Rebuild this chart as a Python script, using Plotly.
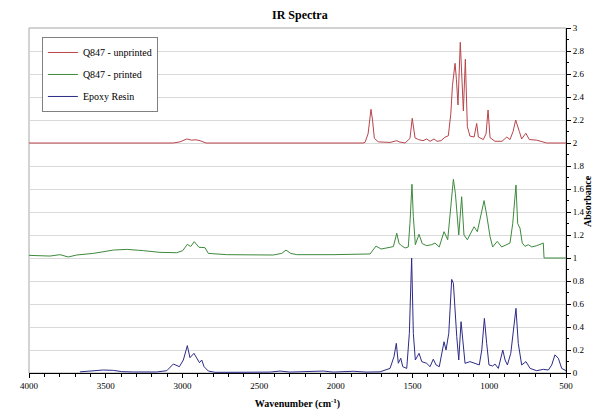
import plotly.graph_objects as go

# ---- data (wavenumber cm-1, absorbance with offsets as plotted) ----
unprinted_wn = [4000, 3060, 3016, 2972, 2940, 2912, 2885, 2864, 2846, 1823, 1810, 1790, 1771, 1761,
                1749, 1723, 1647, 1603, 1588, 1549, 1517, 1502, 1484, 1462, 1432, 1408, 1386, 1360,
                1341, 1315, 1289, 1267, 1251, 1240, 1223, 1214, 1204, 1189, 1181, 1169, 1156, 1143,
                1126, 1099, 1082, 1071, 1039, 1021, 1008, 995, 963, 917, 886, 865, 845, 828, 804,
                789, 762, 739, 691, 648, 626, 500]
unprinted_abs = [2.0, 2.0, 2.01, 2.035, 2.025, 2.028, 2.02, 2.008, 2.0, 2.0, 2.005, 2.08, 2.293, 2.2,
                 2.04, 2.01, 2.005, 2.02, 2.01, 2.0, 2.04, 2.215, 2.045, 2.03, 2.02, 2.035, 2.015, 2.035,
                 2.015, 2.02, 2.05, 2.063, 2.25, 2.5, 2.693, 2.55, 2.33, 2.876, 2.6, 2.278, 2.728, 2.142,
                 2.06, 2.052, 2.17, 2.052, 2.03, 2.08, 2.287, 2.046, 2.015, 2.015, 2.052, 2.03, 2.1, 2.2, 2.1,
                 2.035, 2.085, 2.03, 2.025, 2.012, 2.0, 2.0]

printed_wn = [4000, 3863, 3798, 3744, 3689, 3581, 3450, 3363, 3255, 3146, 3037, 2998, 2968, 2946,
              2923, 2892, 2853, 2831, 2711, 2408, 2353, 2325, 2294, 2255, 2018, 1777, 1738, 1706,
              1647, 1625, 1603, 1588, 1571, 1549, 1528, 1517, 1504, 1495, 1482, 1458, 1437, 1408,
              1375, 1354, 1326, 1295, 1271, 1251, 1234, 1221, 1199, 1180, 1165, 1143, 1099, 1078,
              1054, 1034, 1017, 995, 978, 948, 919, 891, 865, 847, 826, 815, 800, 785, 767, 746,
              723, 691, 648, 643, 500]
printed_abs = [1.023, 1.017, 1.029, 1.009, 1.026, 1.04, 1.069, 1.075, 1.064, 1.049, 1.046, 1.064, 1.119, 1.1,
               1.142, 1.093, 1.09, 1.04, 1.029, 1.026, 1.04, 1.069, 1.04, 1.029, 1.029, 1.035, 1.104, 1.078,
               1.093, 1.1, 1.215, 1.125, 1.107, 1.087, 1.096, 1.302, 1.641, 1.36, 1.116, 1.206, 1.125, 1.107,
               1.116, 1.13, 1.096, 1.229, 1.159, 1.475, 1.684, 1.562, 1.2, 1.533, 1.2, 1.159, 1.272, 1.229,
               1.388, 1.499, 1.374, 1.186, 1.096, 1.145, 1.096, 1.116, 1.13, 1.302, 1.635, 1.3, 1.26, 1.13,
               1.101, 1.116, 1.096, 1.107, 1.13, 1.0, 1.0]

epoxy_wn = [3668, 3581, 3516, 3450, 3396, 3320, 3168, 3102, 3059, 3020, 2994, 2968, 2951, 2925,
            2903, 2889, 2874, 2859, 2831, 2788, 2670, 2429, 2364, 2299, 2082, 2018, 1886, 1803, 1712,
            1647, 1621, 1606, 1593, 1577, 1564, 1538, 1521, 1506, 1495, 1482, 1458, 1440, 1408, 1386,
            1365, 1347, 1326, 1295, 1282, 1264, 1245, 1234, 1212, 1199, 1184, 1169, 1158, 1126, 1093,
            1065, 1049, 1032, 1017, 1002, 978, 963, 941, 912, 897, 882, 860, 843, 826, 811, 789, 761,
            734, 691, 648, 615, 593, 572, 550, 528, 500]
epoxy_abs = [0.01, 0.02, 0.026, 0.023, 0.012, 0.009, 0.009, 0.02, 0.078, 0.055, 0.113, 0.238, 0.133, 0.171,
             0.113, 0.09, 0.113, 0.055, 0.017, 0.006, 0.006, 0.008, 0.017, 0.008, 0.017, 0.008, 0.015, 0.008, 0.01,
             0.04, 0.142, 0.258, 0.085, 0.128, 0.055, 0.04, 0.345, 1.0, 0.345, 0.113, 0.171, 0.099, 0.084, 0.055,
             0.12, 0.07, 0.055, 0.272, 0.2, 0.345, 0.814, 0.78, 0.316, 0.113, 0.446, 0.2, 0.084, 0.099, 0.084,
             0.07, 0.2, 0.475, 0.258, 0.07, 0.061, 0.078, 0.04, 0.2, 0.113, 0.07, 0.171, 0.345, 0.562, 0.258, 0.07, 0.099,
             0.04, 0.02, 0.032, 0.026, 0.07, 0.158, 0.128, 0.04, 0.02]

series_names = ["Q847 - unprinted", "Q847 - printed", "Epoxy Resin"]
series_colors = ["#b8444a", "#3d8a3d", "#2b2b88"]

x_ticks = [4000, 3500, 3000, 2500, 2000, 1500, 1000, 500]
y_ticks = [0, 0.2, 0.4, 0.6, 0.8, 1, 1.2, 1.4, 1.6, 1.8, 2, 2.2, 2.4, 2.6, 2.8, 3]
y_labels = ["0", "0.2", "0.4", "0.6", "0.8", "1", "1.2", "1.4", "1.6", "1.8",
            "2", "2.2", "2.4", "2.6", "2.8", "3"]

FONT = "Liberation Serif"

fig = go.Figure()
for i, (xs, ys) in enumerate([(unprinted_wn, unprinted_abs),
                              (printed_wn, printed_abs),
                              (epoxy_wn, epoxy_abs)]):
    fig.add_trace(go.Scatter(x=xs, y=ys, mode="lines", name=series_names[i],
                             legendgroup=series_names[i],
                             line=dict(color=series_colors[i], width=1)))

# the page body adds an 8px offset, so the figure is 592x408 and margins are shifted
fig.update_layout(
    width=592, height=408,
    margin=dict(l=21, r=34, t=20, b=43),
    paper_bgcolor="white", plot_bgcolor="white",
    font=dict(family=FONT, size=9, color="black"),
    title=dict(text="<b>IR Spectra</b>", x=0.493, xanchor="center", y=0.994, yanchor="top",
               pad=dict(t=0, b=0, l=0, r=0), automargin=False,
               font=dict(family=FONT, size=12, color="black")),
    showlegend=True,
    legend=dict(x=0.024, y=0.974, xanchor="left", yanchor="top",
                bgcolor="white", bordercolor="#808080", borderwidth=1,
                font=dict(family=FONT, size=10, color="black"),
                traceorder="grouped", tracegroupgap=3,
                itemwidth=30, entrywidth=80),
    xaxis=dict(range=[4000, 500], tickvals=x_ticks, ticks="outside", ticklen=4,
               tickcolor="black", showline=True, linecolor="black", linewidth=1,
               showgrid=False, zeroline=False, automargin=False,
               minor=dict(dtick=100, ticks="outside", ticklen=3, tickcolor="black", showgrid=False),
               title=dict(text="<b>Wavenumber (cm<sup>-1</sup>)</b>", standoff=10,
                          font=dict(family=FONT, size=10, color="black")),
               tickfont=dict(family=FONT, size=9, color="black")),
    yaxis=dict(range=[0, 3], side="right", tickvals=y_ticks, ticktext=y_labels,
               ticks="outside", ticklen=4, tickcolor="black",
               showline=True, linecolor="black", linewidth=1,
               showgrid=True, gridcolor="#d9d9d9", gridwidth=1, zeroline=False, automargin=False,
               minor=dict(dtick=0.1, ticks="outside", ticklen=2, tickcolor="black", showgrid=False),
               tickfont=dict(family=FONT, size=9, color="black")),
    shapes=[dict(type="rect", xref="paper", yref="paper", x0=0, x1=1, y0=0, y1=1,
                 line=dict(color="#a6a6a6", width=1), layer="below")],
    annotations=[dict(text="<b>Absorbance</b>", xref="paper", yref="paper",
                      x=1.04, y=0.5, xanchor="center", yanchor="middle",
                      textangle=-90, showarrow=False,
                      font=dict(family=FONT, size=10, color="black"))],
)

fig.write_html("out.html")
